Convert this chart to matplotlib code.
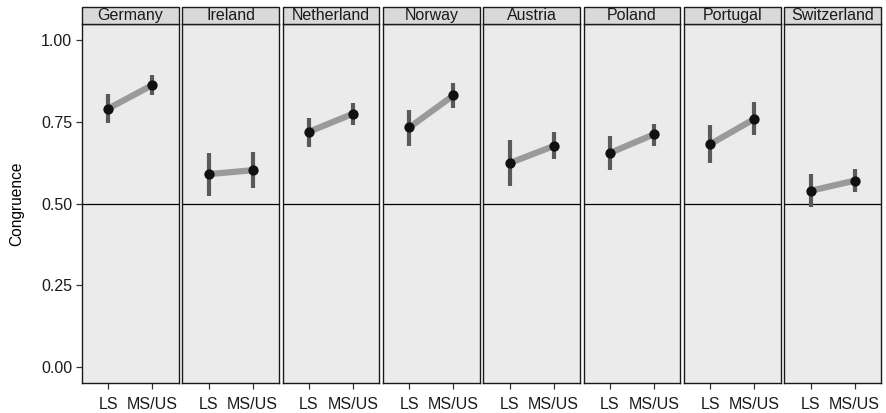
import matplotlib
matplotlib.use("Agg")
import matplotlib.pyplot as plt
from matplotlib.patches import Rectangle

plt.rcParams['font.family'] = ['Liberation Sans', 'DejaVu Sans']

countries = ["Germany", "Ireland", "Netherland", "Norway", "Austria", "Poland", "Portugal", "Switzerland"]
groups = ["LS", "MS/US"]

ls_mean = [0.791, 0.590, 0.720, 0.733, 0.624, 0.655, 0.682, 0.539]
ls_low = [0.747, 0.523, 0.673, 0.676, 0.555, 0.602, 0.623, 0.490]
ls_high = [0.834, 0.655, 0.763, 0.787, 0.695, 0.708, 0.740, 0.591]

ms_mean = [0.863, 0.602, 0.775, 0.831, 0.676, 0.712, 0.759, 0.570]
ms_low = [0.832, 0.549, 0.739, 0.794, 0.635, 0.677, 0.709, 0.535]
ms_high = [0.894, 0.658, 0.808, 0.868, 0.720, 0.744, 0.812, 0.606]

y_ticks = [0.00, 0.25, 0.50, 0.75, 1.00]
y_tick_labels = ["0.00", "0.25", "0.50", "0.75", "1.00"]

W, H = 886, 413
fig = plt.figure(figsize=(W / 100, H / 100), dpi=100)

left_px, right_px = 82, 881
top_px, bottom_px = 24, 383
strip_px = 17
gap_px = 3.6
n = len(countries)
panel_w = (right_px - left_px - gap_px * (n - 1)) / n
panel_h = bottom_px - top_px

panel_bg = "#ebebeb"
strip_bg = "#d9d9d9"
fs = 11.5

for i, c in enumerate(countries):
    x0 = left_px + i * (panel_w + gap_px)
    ax = fig.add_axes([x0 / W, 1 - bottom_px / H, panel_w / W, panel_h / H])
    ax.set_facecolor(panel_bg)
    ax.set_xlim(-0.6, 1.6)
    ax.set_ylim(-0.05, 1.05)

    ax.axhline(0.5, color="black", lw=0.9, zorder=1)

    xs = [0, 1]
    ax.plot(xs, [ls_mean[i], ms_mean[i]], color="#9a9a9a", lw=4.5,
            solid_capstyle="butt", zorder=2)
    ax.vlines(xs, [ls_low[i], ms_low[i]], [ls_high[i], ms_high[i]],
              color="#5a5a5a", lw=3.0, zorder=3)
    ax.scatter(xs, [ls_mean[i], ms_mean[i]], s=55, color="#111111",
               zorder=4, linewidths=0)

    ax.set_xticks(xs)
    ax.set_xticklabels(groups, fontsize=fs, color="#1a1a1a")
    ax.tick_params(axis="x", length=4, width=0.9, color="#333333", pad=6)

    if i == 0:
        ax.set_yticks(y_ticks)
        ax.set_yticklabels(y_tick_labels, fontsize=fs, color="#1a1a1a")
        ax.tick_params(axis="y", length=4, width=0.9, color="#333333", pad=3)
        ax.set_ylabel("Congruence", fontsize=11.2, labelpad=12.5)
    else:
        ax.set_yticks([])

    for s in ax.spines.values():
        s.set_color("#1a1a1a")
        s.set_linewidth(1.0)

    h = strip_px / panel_h
    ax.add_patch(Rectangle((0, 1), 1, h, transform=ax.transAxes, facecolor=strip_bg,
                           edgecolor="#1a1a1a", lw=1.0, clip_on=False, zorder=5))
    ax.text(0.5, 1 + h / 2, c, transform=ax.transAxes, ha="center", va="center",
            fontsize=fs, color="#1a1a1a", zorder=6)

fig.savefig("out.png", dpi=100)
